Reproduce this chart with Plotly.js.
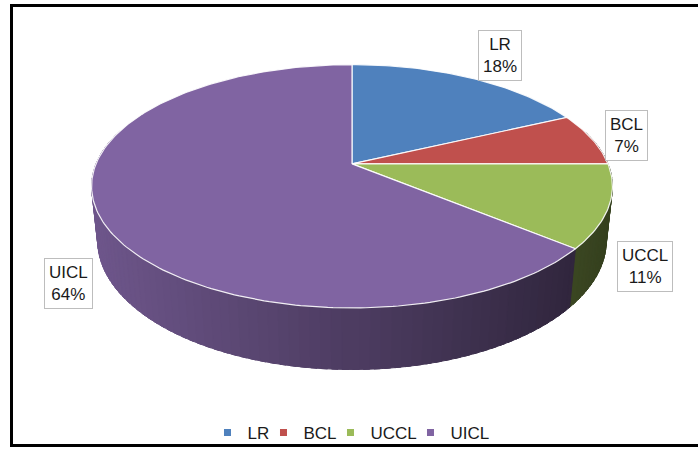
<!DOCTYPE html>
<html>
<head>
<meta charset="utf-8">
<script src="https://cdn.plot.ly/plotly-3.0.1.min.js"></script>
<style>html,body{margin:0;padding:0;background:#fff;}#chart{width:698px;height:451px;}</style>
</head>
<body>
<div id="chart"></div>
<script>
// ---- data ----
const labels = ['LR', 'BCL', 'UCCL', 'UICL'];
const values = [18, 7, 11, 64];
const colors = ['#4F81BD', '#C0504D', '#9BBB59', '#8064A2'];

// ---- 3D pie projection (styling geometry) ----
const cx = 352, cy = 165;
const a = 45 / 245;                 // perspective ratio
const s = 100 * (1 + a);
const sinA = s / 256, cosA = Math.sqrt(1 - sinA * sinA);
const R = a / cosA;
const f = 256 / R;
const H = 0.0506;                   // thickness

function proj(thetaDeg, Y) {
  const t = thetaDeg * Math.PI / 180;
  const X = R * Math.sin(t), Z = R * Math.cos(t);
  const yc = Y * cosA + Z * sinA;
  const dep = 1 + Z * cosA - Y * sinA;
  return [cx + f * X / dep, cy - f * yc / dep];
}
function hexToRgb(h) {
  const n = parseInt(h.slice(1), 16);
  return [(n >> 16) & 255, (n >> 8) & 255, n & 255];
}
function shade(hex, k) {
  const c = hexToRgb(hex).map(v => Math.round(v * k));
  return 'rgb(' + c.join(',') + ')';
}

const total = values.reduce((p, q) => p + q, 0);
const ranges = [];
let acc = 0;
values.forEach(v => { const t0 = acc / total * 360; acc += v; ranges.push([t0, acc / total * 360]); });

const traces = [];
// outer walls (drawn back to front, slightly overlapping to avoid seams)
const walls = [];
ranges.forEach((r, i) => {
  const n = Math.max(1, Math.ceil((r[1] - r[0]) / 2));
  for (let k = 0; k < n; k++) {
    const a0 = r[0] + (r[1] - r[0]) * k / n;
    const a1 = r[0] + (r[1] - r[0]) * (k + 1) / n;
    const mid = (a0 + a1) / 2;
    const z = Math.cos(mid * Math.PI / 180);
    if (z > 0.3) continue;
    const b0 = Math.max(r[0], a0 - 0.6), b1 = Math.min(r[1] + 0.3, a1 + 0.6);
    const xs = [], ys = [];
    const m = 4;
    for (let j = 0; j <= m; j++) { const p = proj(b0 + (b1 - b0) * j / m, 0); xs.push(p[0]); ys.push(p[1]); }
    for (let j = m; j >= 0; j--) { const p = proj(b0 + (b1 - b0) * j / m, -H); xs.push(p[0]); ys.push(p[1]); }
    xs.push(xs[0]); ys.push(ys[0]);
    const pm = proj(mid, 0);
    const tt = Math.min(1, Math.max(0, (pm[0] - 92) / 520));
    const kf = 0.86 - 0.52 * tt;
    const col = shade(colors[i], kf);
    walls.push({ z: z, tr: { type: 'scatter', mode: 'lines', x: xs, y: ys, fill: 'toself', fillcolor: col,
      line: { color: col, width: 1 }, showlegend: false, hoverinfo: 'skip' } });
  }
});
walls.sort((p, q) => q.z - p.z).forEach(w => traces.push(w.tr));

// top faces
ranges.forEach((r, i) => {
  const xs = [cx], ys = [cy];
  const n = Math.max(2, Math.ceil(r[1] - r[0]));
  for (let j = 0; j <= n; j++) { const p = proj(r[0] + (r[1] - r[0]) * j / n, 0); xs.push(p[0]); ys.push(p[1]); }
  xs.push(cx); ys.push(cy);
  traces.push({ type: 'scatter', mode: 'lines', x: xs, y: ys, fill: 'toself', fillcolor: colors[i],
    line: { color: 'rgba(255,255,255,0.9)', width: 1.2 }, showlegend: false, hoverinfo: 'skip' });
});

// legend entries
const legendWidths = [11, 22, 35, 42];
labels.forEach((l, i) => {
  traces.push({ type: 'scatter', mode: 'markers', x: [null], y: [null], name: l,
    legendwidth: legendWidths[i],
    marker: { symbol: 'square', size: 7, color: colors[i] }, showlegend: true });
});

// label boxes
const labelPos = [[500, 56], [626, 136], [645, 268], [68, 285]];
const annotations = labels.map((l, i) => ({
  x: labelPos[i][0], y: labelPos[i][1], xref: 'x', yref: 'y',
  text: l + '<br>' + values[i] + '%', showarrow: false,
  font: { family: 'Liberation Sans, Arial, sans-serif', size: 17, color: '#1a1a1a' },
  bgcolor: '#ffffff', bordercolor: '#bdbdbd', borderwidth: 1, borderpad: 4,
  xanchor: 'center', yanchor: 'middle', align: 'center'
}));

const layout = {
  width: 698, height: 451,
  margin: { l: 0, r: 0, t: 0, b: 0 },
  paper_bgcolor: '#ffffff', plot_bgcolor: '#ffffff',
  xaxis: { range: [0, 698], visible: false, fixedrange: true },
  yaxis: { range: [451, 0], visible: false, fixedrange: true },
  showlegend: true,
  legend: { orientation: 'h', x: 0.505, xanchor: 'center', y: 0.033, yanchor: 'middle',
    font: { family: 'Liberation Sans, Arial, sans-serif', size: 17, color: '#1a1a1a' },
    itemwidth: 30, bgcolor: 'rgba(0,0,0,0)', traceorder: 'normal' },
  annotations: annotations,
  shapes: [{ type: 'rect', xref: 'x', yref: 'y', x0: 11.5, x1: 710, y0: 5.5, y1: 448.5,
    line: { color: '#000000', width: 3 }, fillcolor: 'rgba(0,0,0,0)' }]
};

Plotly.newPlot('chart', traces, layout, { staticPlot: true, displayModeBar: false });
</script>
</body>
</html>
